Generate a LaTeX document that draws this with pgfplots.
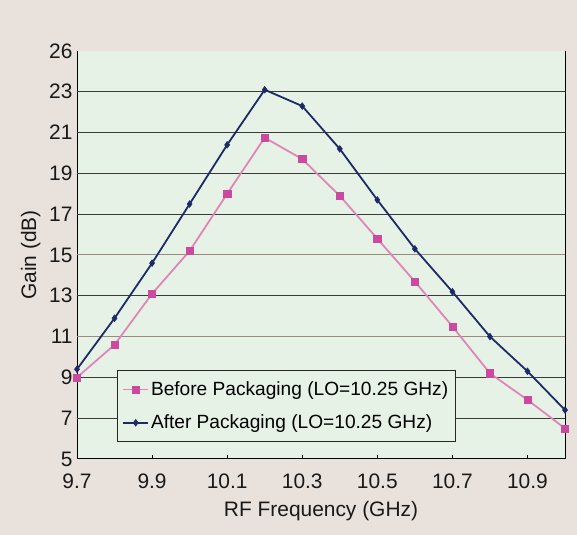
\documentclass[border=0pt]{standalone}
\usepackage{pgfplots}
\pgfplotsset{compat=1.18}
\usepackage{fontspec}
\setmainfont{Liberation Sans}

\definecolor{pagebg}{HTML}{E8E1DC}
\definecolor{plotbg}{HTML}{E6F2E6}
\definecolor{afterblue}{HTML}{1E2A66}
\definecolor{beforeline}{HTML}{E085B8}
\definecolor{beforemark}{HTML}{CC4A9E}
\definecolor{gridtone}{HTML}{3A3A3A}
\definecolor{gridlight}{HTML}{9A8A80}

\pgfplotstableread{
f      gain
9.7    9.0
9.8    10.6
9.9    13.1
10.0   15.2
10.1   18.0
10.2   20.75
10.3   19.7
10.4   17.9
10.5   15.8
10.6   13.7
10.7   11.5
10.8   9.2
10.9   7.9
11.0   6.5
}\before

\pgfplotstableread{
f      gain
9.7    9.4
9.8    11.9
9.9    14.6
10.0   17.5
10.1   20.4
10.2   23.1
10.3   22.3
10.4   20.2
10.5   17.7
10.6   15.3
10.7   13.2
10.8   11.0
10.9   9.3
11.0   7.4
}\after

\begin{document}
\begin{tikzpicture}[x=1bp,y=1bp]
\fill[pagebg] (0,0) rectangle (577,535);
\begin{axis}[
  at={(77bp,76bp)}, anchor=south west,
  scale only axis,
  width=488bp, height=408bp,
  xmin=9.7, xmax=11.0,
  ymin=5, ymax=25,
  axis background/.style={fill=plotbg},
  axis x line=bottom,
  axis y line=box,
  axis line style={-, black, line width=1pt},
  xtick={9.7,9.9,10.1,10.3,10.5,10.7,10.9},
  xticklabels={9.7,9.9,10.1,10.3,10.5,10.7,10.9},
  ytick={5,7,9,11,13,15,17,19,21,23,25},
  yticklabels={5,7,9,11,13,15,17,19,21,23,26},
  major tick length=4bp,
  x tick style={black, line width=0.6pt},
  xtick pos=bottom,
  xtick align=inside,
  y tick style={draw=none},
  /pgf/number format/assume math mode=true,
  tick label style={font=\fontsize{21}{25}\selectfont, text=black!90},
  xticklabel style={yshift=-11bp},
  yticklabel style={xshift=-1bp},
  xlabel={RF Frequency (GHz)},
  ylabel={Gain (dB)},
  label style={font=\fontsize{21}{25}\selectfont, text=black!90},
  xlabel style={yshift=-6bp},
  ylabel style={yshift=2bp},
  legend style={
    at={(0.082,0.042)}, anchor=south west,
    fill=plotbg, draw=black!85, line width=0.8pt,
    font=\fontsize{19.2}{23}\selectfont,
    inner xsep=5bp, inner ysep=9bp,
    row sep=14bp,
  },
  legend cell align=left,
  legend image code/.code={
    \draw[mark repeat=2, mark phase=2, line width=1.6pt]
      plot coordinates {(0bp,0bp) (12.5bp,0bp) (25bp,0bp)};
  },
  clip=false,
]
% horizontal reference lines
\foreach \g in {7,9,13,17,19,21,23}{
  \edef\tmp{\noexpand\draw[gridtone, line width=1pt] (axis cs:9.7,\g) -- (axis cs:11.0,\g);}
  \tmp
}
\foreach \g in {11,15}{
  \edef\tmp{\noexpand\draw[gridlight, line width=1pt] (axis cs:9.7,\g) -- (axis cs:11.0,\g);}
  \tmp
}

\addplot[beforeline, line width=1.8pt,
  mark=square*, mark size=3.6bp,
  mark options={fill=beforemark, draw=beforemark, line width=0.5pt}]
  table[x=f, y=gain] {\before};
\addlegendentry{Before Packaging (LO=10.25 GHz)}

\addplot[afterblue, line width=1.8pt,
  mark=diamond*, mark size=3.4bp,
  mark options={fill=afterblue, draw=afterblue, line width=0.5pt}]
  table[x=f, y=gain] {\after};
\addlegendentry{After Packaging (LO=10.25 GHz)}
\end{axis}
\end{tikzpicture}
\end{document}
